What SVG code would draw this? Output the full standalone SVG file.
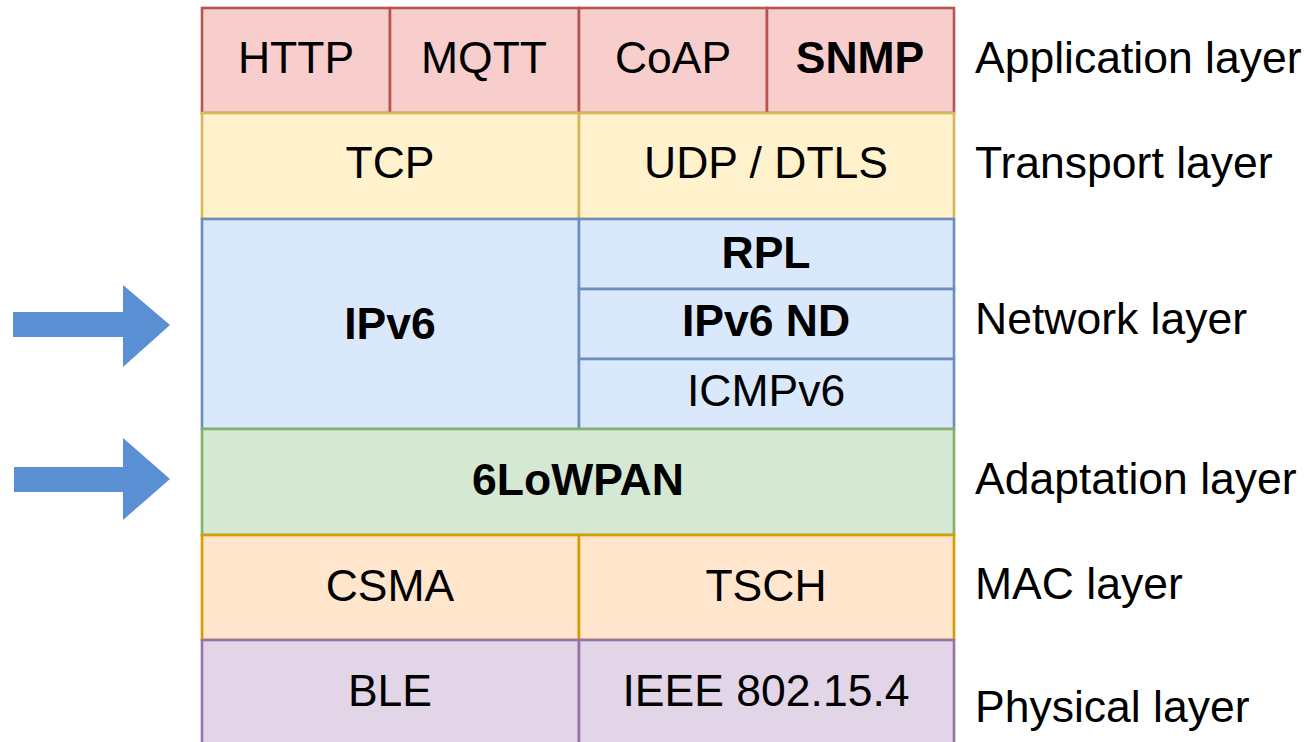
<svg xmlns="http://www.w3.org/2000/svg" width="1312" height="742" viewBox="0 0 1312 742">
  <style>
    .t { font-family: "Liberation Sans", Arial, sans-serif; font-size: 44.5px; fill: #000; text-anchor: middle; }
    .b { font-weight: bold; }
    .lbl { font-family: "Liberation Sans", Arial, sans-serif; font-size: 44.5px; fill: #000; }
    rect { stroke-width: 2.6; }
    .app { fill: #f8cecc; stroke: #b85450; }
    .tr { fill: #fff2cc; stroke: #d6b656; }
    .net { fill: #dae8fc; stroke: #6c8ebf; }
    .ad { fill: #d5e8d4; stroke: #82b366; }
    .mac { fill: #ffe6cc; stroke: #d79b00; }
    .phy { fill: #e1d5e7; stroke: #9673a6; }
    .arrow { fill: #5b8fd4; }
  </style>
  <rect width="1312" height="742" fill="#ffffff"/>

  <!-- Application layer -->
  <g id="http"><rect class="app" x="202" y="8" width="188" height="105"/><text class="t" x="296" y="73">HTTP</text></g>
  <g id="mqtt"><rect class="app" x="390" y="8" width="189" height="105"/><text class="t" x="484" y="73">MQTT</text></g>
  <g id="coap"><rect class="app" x="579" y="8" width="188" height="105"/><text class="t" x="673" y="73">CoAP</text></g>
  <g id="snmp"><rect class="app" x="767" y="8" width="187" height="105"/><text class="t b" x="860" y="73">SNMP</text></g>

  <!-- Transport layer -->
  <g id="tcp"><rect class="tr" x="202" y="113" width="377" height="106"/><text class="t" x="390" y="178">TCP</text></g>
  <g id="udp"><rect class="tr" x="579" y="113" width="375" height="106"/><text class="t" x="766" y="178">UDP / DTLS</text></g>

  <!-- Network layer -->
  <g id="ipv6"><rect class="net" x="202" y="219" width="377" height="210"/><text class="t b" x="390" y="339">IPv6</text></g>
  <g id="rpl"><rect class="net" x="579" y="219" width="375" height="70"/><text class="t b" x="766" y="268">RPL</text></g>
  <g id="ipv6nd"><rect class="net" x="579" y="289" width="375" height="70"/><text class="t b" x="766" y="336">IPv6 ND</text></g>
  <g id="icmpv6"><rect class="net" x="579" y="359" width="375" height="70"/><text class="t" x="766" y="406">ICMPv6</text></g>

  <!-- Adaptation layer -->
  <g id="sixlowpan"><rect class="ad" x="202" y="429" width="752" height="106"/><text class="t b" x="578" y="495">6LoWPAN</text></g>

  <!-- MAC layer -->
  <g id="csma"><rect class="mac" x="202" y="535" width="377" height="105"/><text class="t" x="390" y="601">CSMA</text></g>
  <g id="tsch"><rect class="mac" x="579" y="535" width="375" height="105"/><text class="t" x="766" y="601">TSCH</text></g>

  <!-- Physical layer -->
  <g id="ble"><rect class="phy" x="202" y="640" width="377" height="130"/><text class="t" x="390" y="706">BLE</text></g>
  <g id="ieee"><rect class="phy" x="579" y="640" width="375" height="130"/><text class="t" x="766" y="706">IEEE 802.15.4</text></g>

  <!-- Layer names -->
  <g id="labels">
    <text class="lbl" x="975" y="73">Application layer</text>
    <text class="lbl" x="975" y="178">Transport layer</text>
    <text class="lbl" x="975" y="334">Network layer</text>
    <text class="lbl" x="975" y="494">Adaptation layer</text>
    <text class="lbl" x="975" y="599">MAC layer</text>
    <text class="lbl" x="975" y="722">Physical layer</text>
  </g>

  <!-- Pointer arrows -->
  <g id="connectors">
    <polygon class="arrow" points="13,312 123,312 123,285 170,325 123,367 123,337 13,337"/>
    <polygon class="arrow" points="14,467 123,467 123,438 170,479 123,520 123,492 14,492"/>
  </g>
</svg>
